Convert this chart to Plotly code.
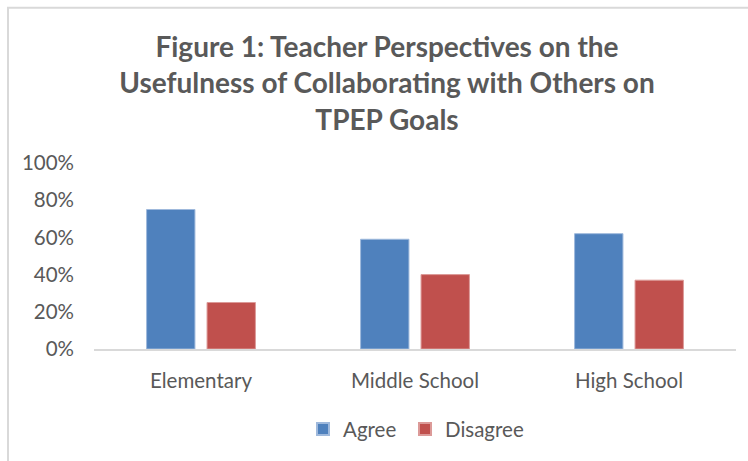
import plotly.graph_objects as go

categories = ["Elementary", "Middle School", "High School"]
agree = [0.75, 0.59, 0.62]
disagree = [0.25, 0.40, 0.37]
y_ticks = [0, 0.2, 0.4, 0.6, 0.8, 1.0]
y_tick_labels = ["0%", "20%", "40%", "60%", "80%", "100%"]

W, H = 748, 461
L, R, T, B = 94, 12, 163, 110
pw, ph = W - L - R, H - T - B

def px_x(x):
    return (x - L) / pw

def px_y(y):
    return (H - B - y) / ph

FONT = "Lato"
GREY = "#595959"
TS = 20.5

fig = go.Figure()
fig.add_trace(go.Bar(x=categories, y=agree, name="Agree", legend="legend",
                     marker=dict(color="#4f81bd", line=dict(color="#9fb9dc", width=1))))
fig.add_trace(go.Bar(x=categories, y=disagree, name="Disagree", legend="legend2",
                     marker=dict(color="#c0504d", line=dict(color="#dc9a98", width=1))))

legend_common = dict(orientation="h", xanchor="left", y=px_y(432), yanchor="middle",
                     font=dict(size=TS, color=GREY), itemsizing="constant", itemwidth=30,
                     bgcolor="rgba(0,0,0,0)")

fig.update_layout(
    width=W, height=H,
    margin=dict(l=L, r=R, t=T, b=B, pad=0),
    paper_bgcolor="white", plot_bgcolor="white",
    barmode="group", bargap=0.435, bargroupgap=0.2,
    font=dict(family=FONT, color=GREY, size=TS),
    title=dict(text="<b>Figure 1: Teacher Perspectives on the<br>Usefulness of Collaborating with Others on<br>TPEP Goals</b>",
               x=px_x(387), xref="paper", xanchor="center",
               y=1 - 57 / H, yanchor="middle", yref="container",
               font=dict(family=FONT, size=28, color=GREY)),
    xaxis=dict(showline=True, linecolor="#d9d9d9", linewidth=1.5,
               showgrid=False, ticks="", ticklabelstandoff=13,
               tickfont=dict(size=TS, color=GREY)),
    yaxis=dict(range=[0, 1], tickvals=y_ticks, ticktext=y_tick_labels,
               showgrid=False, zeroline=False, showline=False, ticks="",
               ticklabelstandoff=19, tickfont=dict(size=TS, color=GREY)),
    legend=dict(x=px_x(303), **legend_common),
    legend2=dict(x=px_x(405), **legend_common),
    showlegend=True,
    shapes=[dict(type="rect", xref="paper", yref="paper",
                 x0=px_x(8), x1=px_x(780), y0=px_y(6), y1=px_y(500),
                 line=dict(color="#d9d9d9", width=2), layer="below")],
)

fig.write_html("out.html")
